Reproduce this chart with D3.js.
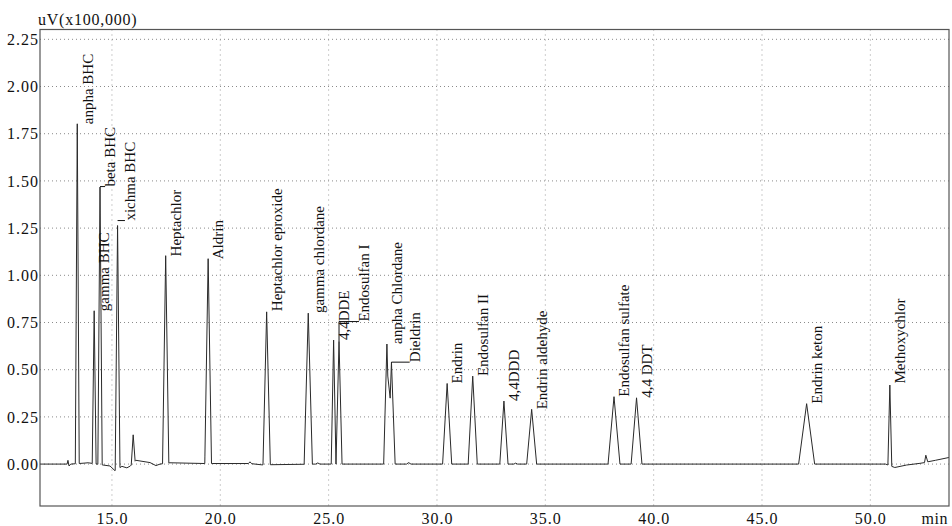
<!DOCTYPE html>
<html>
<head>
<meta charset="utf-8">
<script src="https://cdn.jsdelivr.net/npm/d3@7"></script>
<style>
  body { margin: 0; background: #fff; }
  svg text { font-family: "Liberation Serif", "Times New Roman", serif; fill: #111; }
</style>
</head>
<body>
<svg width="952" height="526"></svg>
<script>
// peaks (retention time in min, height in uV x100,000, base width in min)
var peakNames = ["anpha BHC", "gamma BHC", "beta BHC", "xichma BHC", "", "Heptachlor", "Aldrin",
    "Heptachlor eproxide", "gamma chlordane", "4,4DDE", "Endosulfan I", "anpha Chlordane", "Dieldrin",
    "Endrin", "Endosulfan II", "4,4DDD", "Endrin aldehyde", "Endosulfan sulfate", "4,4 DDT",
    "Endrin keton", "Methoxychlor"];
var peakTimes = [13.40, 14.18, 14.45, 15.26, 15.98, 17.48, 19.44, 22.14, 24.06, 25.23, 25.48, 27.69, 27.90,
    30.47, 31.65, 33.09, 34.37, 38.17, 39.21, 47.06, 50.90];
var peakHeights = [1.80, 0.81, 1.47, 1.29, 0.15, 1.10, 1.085, 0.81, 0.80, 0.657, 0.65, 0.636, 0.54,
    0.427, 0.466, 0.334, 0.29, 0.357, 0.351, 0.32, 0.427];
var peakWidths = [0.18, 0.18, 0.20, 0.22, 0.18, 0.29, 0.31, 0.34, 0.38, 0.22, 0.28, 0.30, 0.34,
    0.42, 0.42, 0.38, 0.46, 0.55, 0.50, 0.74, 0.18];

// labels pushed aside with a leader line (null = label sits next to its peak)
var labelTimes = [null, null, 14.68, 15.60, null, null, null, null, null, null, 26.40, null, 28.74,
    null, null, null, null, null, null, null, null];
var labelLevels = [null, null, null, null, null, null, null, null, null, null, 0.755, null, null,
    null, null, null, null, null, null, null, null];

// baseline drift / noise between peaks
var baseTimes = [11.68, 12.93, 12.97, 13.02, 13.10, 13.71, 13.90, 14.59, 14.91, 15.14, 15.46, 15.69,
    15.85, 16.11, 16.76, 17.03, 17.22, 17.68, 19.29, 19.62, 21.30, 21.37, 21.45, 21.92, 24.40, 24.50,
    24.60, 28.60, 28.69, 28.80, 33.55, 33.63, 33.72, 50.70, 51.13, 51.67, 52.29, 52.50, 52.56, 52.65,
    53.00, 53.63];
var baseValues = [0.0, 0.0, 0.02, -0.01, 0.0, 0.005, 0.007, -0.005, -0.01, -0.035, -0.012, -0.02,
    -0.01, 0.02, 0.008, -0.008, 0.0, 0.007, 0.003, 0.003, 0.003, 0.012, 0.002, -0.004, 0.0, 0.006,
    0.0, 0.0, 0.008, 0.0, 0.0, 0.005, 0.0, 0.0, -0.018, -0.005, 0.004, 0.008, 0.047, 0.012,
    0.02, 0.035];

var yTicks = [0, 0.25, 0.5, 0.75, 1.0, 1.25, 1.5, 1.75, 2.0, 2.25];
var xTicks = [15, 20, 25, 30, 35, 40, 45, 50];

var svg = d3.select("svg"),
    plotLeft = 40, plotRight = 949, plotTop = 29.5, plotBottom = 506;

var x = d3.scaleLinear().domain([11.68, 53.63]).range([plotLeft, plotRight]),
    y = d3.scaleLinear().domain([-0.222, 2.302]).range([plotBottom, plotTop]);

// gridlines
svg.append("g")
   .selectAll("line")
   .data(yTicks)
   .enter().append("line")
   .attr("x1", plotLeft).attr("x2", plotRight)
   .attr("y1", function(d) { return y(d); })
   .attr("y2", function(d) { return y(d); })
   .attr("stroke", "#8a8a8a")
   .attr("stroke-dasharray", "1,3");

svg.append("g")
   .selectAll("line")
   .data(xTicks)
   .enter().append("line")
   .attr("y1", plotTop).attr("y2", plotBottom)
   .attr("x1", function(d) { return x(d); })
   .attr("x2", function(d) { return x(d); })
   .attr("stroke", "#9a9a9a")
   .attr("stroke-dasharray", "1,4");

// axes
var yAxis = svg.append("g")
    .attr("transform", "translate(" + plotLeft + ",0)")
    .call(d3.axisLeft(y).tickValues(yTicks).tickFormat(d3.format(".2f")).tickSize(0).tickPadding(1));
var xAxis = svg.append("g")
    .attr("transform", "translate(0," + plotBottom + ")")
    .call(d3.axisBottom(x).tickValues(xTicks).tickFormat(d3.format(".1f")).tickSize(0).tickPadding(7));
[yAxis, xAxis].forEach(function(a) {
    a.select(".domain").remove();
    a.attr("font-family", null).attr("font-size", null);
    a.selectAll("text")
     .style("font-size", "16px")
     .style("letter-spacing", "1px")
     .attr("fill", "#111");
});

svg.append("text")
   .attr("x", 38).attr("y", 25)
   .style("font-size", "16px")
   .style("letter-spacing", "0.75px")
   .text("uV(x100,000)");

svg.append("text")
   .attr("x", 948).attr("y", 524)
   .attr("text-anchor", "end")
   .style("font-size", "16px")
   .style("letter-spacing", "0.5px")
   .text("min");

// build the trace: baseline plus the peaks
var base = d3.scaleLinear().domain(baseTimes).range(baseValues);
var times = baseTimes.slice();
peakTimes.forEach(function(t, i) {
    times.push(t - peakWidths[i] / 2, t, t + peakWidths[i] / 2);
});
times = Array.from(new Set(times)).sort(d3.ascending);

var trace = times.map(function(t) {
    var v = base(t);
    peakTimes.forEach(function(rt, i) {
        var half = peakWidths[i] / 2;
        var f = 1 - Math.abs(t - rt) / half;
        if (f > 0) v += peakHeights[i] * f;
    });
    return { t: t, v: v };
});

svg.append("clipPath").attr("id", "plot")
   .append("rect").attr("x", plotLeft).attr("y", plotTop)
   .attr("width", plotRight - plotLeft).attr("height", plotBottom - plotTop);

svg.append("path")
   .datum(trace)
   .attr("clip-path", "url(#plot)")
   .attr("fill", "none")
   .attr("stroke", "#2a2a2a")
   .attr("stroke-width", 1)
   .attr("d", d3.line().x(function(d) { return x(d.t); }).y(function(d) { return y(d.v); }));

// peak labels
var peaks = peakNames.map(function(n, i) { return i; }).filter(function(i) { return peakNames[i] !== ""; });

svg.append("g")
   .selectAll("path")
   .data(peaks.filter(function(i) { return labelTimes[i] !== null; }))
   .enter().append("path")
   .attr("fill", "none")
   .attr("stroke", "#111")
   .attr("d", function(i) {
       var lv = labelLevels[i] !== null ? labelLevels[i] : peakHeights[i];
       return "M" + x(peakTimes[i]) + "," + y(peakHeights[i]) + "V" + y(lv) + "H" + x(labelTimes[i]);
   });

svg.append("g")
   .selectAll("text")
   .data(peaks)
   .enter().append("text")
   .style("font-size", "15px")
   .attr("dy", "0.35em")
   .attr("transform", function(i) {
       var lx = labelTimes[i] === null ? x(peakTimes[i]) + 10 : x(labelTimes[i]) + 5;
       var ly = y(labelLevels[i] !== null ? labelLevels[i] : peakHeights[i]);
       return "translate(" + lx + "," + ly + ") rotate(-90)";
   })
   .text(function(i) { return peakNames[i]; });

// frame
svg.append("rect")
   .attr("x", plotLeft).attr("y", plotTop)
   .attr("width", plotRight - plotLeft).attr("height", plotBottom - plotTop)
   .attr("fill", "none")
   .attr("stroke", "#555")
   .attr("stroke-width", 1.2);
</script>
</body>
</html>
